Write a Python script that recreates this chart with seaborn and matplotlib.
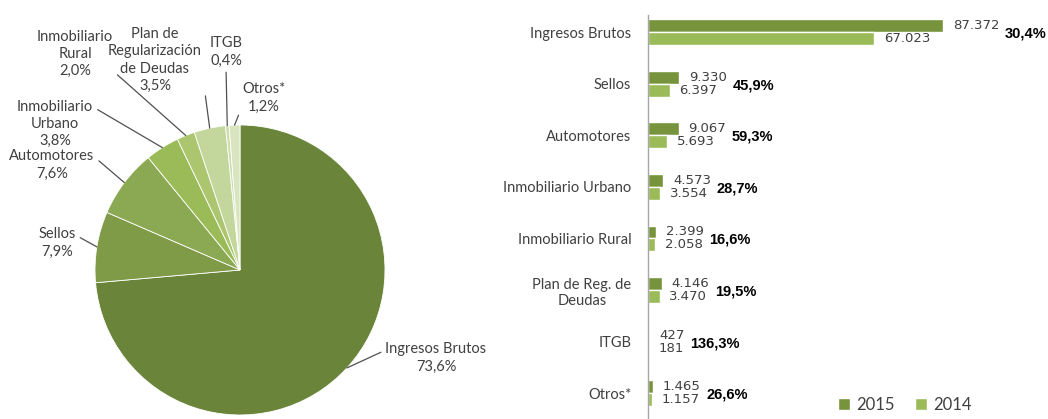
import numpy as np
import pandas as pd
import matplotlib
matplotlib.use("Agg")
import matplotlib.pyplot as plt
import seaborn as sns

# datos
categorias = ["Ingresos Brutos", "Sellos", "Automotores", "Inmobiliario Urbano",
              "Inmobiliario Rural", "Plan de Reg. de\nDeudas", "ITGB", "Otros*"]
recaudacion_2015 = [87372, 9330, 9067, 4573, 2399, 4146, 427, 1465]
recaudacion_2014 = [67023, 6397, 5693, 3554, 2058, 3470, 181, 1157]
variacion = [30.4, 45.9, 59.3, 28.7, 16.6, 19.5, 136.3, 26.6]

pie_labels = ["Ingresos Brutos", "Sellos", "Automotores", "Inmobiliario\nUrbano",
              "Inmobiliario\nRural", "Plan de\nRegularización\nde Deudas", "ITGB", "Otros*"]
pie_share = [73.6, 7.9, 7.6, 3.8, 2.0, 3.5, 0.4, 1.2]

pie_colors = ["#6A853A", "#7F9B48", "#8BA852", "#9BBB59", "#ABC66F",
              "#C3D69B", "#CEDDAE", "#D8E5BF"]
c2015 = "#77933C"
c2014 = "#9BBB59"
txt = "#404040"

sns.set_theme(style="white")
plt.rcParams["font.family"] = ["Lato", "DejaVu Sans"]

fig = plt.figure(figsize=(10.48, 4.19), dpi=100)

# --- torta ---
W, H = 1048, 419
cx, cy, r = 240, 270, 145
ax1 = fig.add_axes([(cx - r) / W, (H - cy - r) / H, 2 * r / W, 2 * r / H])
wedges, _ = ax1.pie(pie_share, colors=pie_colors, startangle=90, counterclock=False,
                    wedgeprops=dict(edgecolor="white", linewidth=0.6))
ax1.set_xlim(-1, 1)
ax1.set_ylim(-1, 1)
ax1.set_aspect("equal")
ax1.axis("off")

# posiciones de las etiquetas (pixeles de la imagen) y punto de anclaje de la guia
label_px = [(436, 358), (57, 243), (52, 165), (55, 124), (75, 54), (155, 60), (226, 52), (264, 98)]
relpos = [(0, 0.75), (1, 0.75), (1, 0.75), (1, 0.85), (1, 0.15), (1, 0.35), (0.5, 0), (0, 0.25)]

for w, lab, pct, (px, py), rp in zip(wedges, pie_labels, pie_share, label_px, relpos):
    ang = np.deg2rad((w.theta1 + w.theta2) / 2)
    xy = (np.cos(ang), np.sin(ang))
    xt = ((px - cx) / r, (cy - py) / r)
    text = f"{lab}\n{pct:.1f}%".replace(".", ",")
    ax1.annotate(text, xy=xy, xytext=xt, ha="center", va="center", fontsize=10.5,
                 color=txt, multialignment="center", linespacing=1.3,
                 arrowprops=dict(arrowstyle="-", color="#505050", lw=0.9,
                                 shrinkA=1, shrinkB=0, relpos=rp))

# --- barras ---
df = pd.DataFrame({
    "categoria": categorias * 2,
    "valor": recaudacion_2015 + recaudacion_2014,
    "anio": ["2015"] * len(categorias) + ["2014"] * len(categorias),
})

top_px = 15
ax2 = fig.add_axes([648 / W, 0, 337.6 / W, (H - top_px) / H])
sns.barplot(data=df, x="valor", y="categoria", hue="anio", orient="h",
            palette=[c2015, c2014], width=0.5, ax=ax2, saturation=1)
ax2.set_xlim(0, 100000)
ax2.set_ylim(7.5, -0.33)
ax2.set_xlabel("")
ax2.set_ylabel("")
ax2.xaxis.set_visible(False)
for s in ["top", "right", "bottom"]:
    ax2.spines[s].set_visible(False)
ax2.spines["left"].set_color("#A6A6A6")
ax2.spines["left"].set_linewidth(1)
ax2.tick_params(axis="y", length=0, pad=12, labelsize=10.5, labelcolor=txt)
for t in ax2.get_yticklabels():
    t.set_multialignment("center")

fmt = lambda v: f"{v:,}".replace(",", ".")
labs15 = ax2.bar_label(ax2.containers[0], labels=[fmt(v) for v in recaudacion_2015],
                       padding=7, fontsize=9.5, color=txt, family="DejaVu Sans")
ax2.bar_label(ax2.containers[1], labels=[fmt(v) for v in recaudacion_2014],
              padding=7, fontsize=9.5, color=txt, family="DejaVu Sans")

for i, (lab, v) in enumerate(zip(labs15, variacion)):
    ax2.annotate(f"{v:.1f}%".replace(".", ","), xy=(1, i + 0.03), xycoords=(lab, "data"),
                 xytext=(4, 0), textcoords="offset points", ha="left", va="center",
                 fontsize=10.5, fontweight="bold", color="black",
                 family="Liberation Sans")

sns.move_legend(ax2, loc="center", bbox_to_anchor=(905 / W, 1 - 405 / H),
                bbox_transform=fig.transFigure, ncol=2, frameon=False, title=None,
                handlelength=0.7, handleheight=0.7, handletextpad=0.4,
                columnspacing=1.2, fontsize=12)
for t in ax2.get_legend().get_texts():
    t.set_color(txt)

fig.savefig("out.png", dpi=100)
